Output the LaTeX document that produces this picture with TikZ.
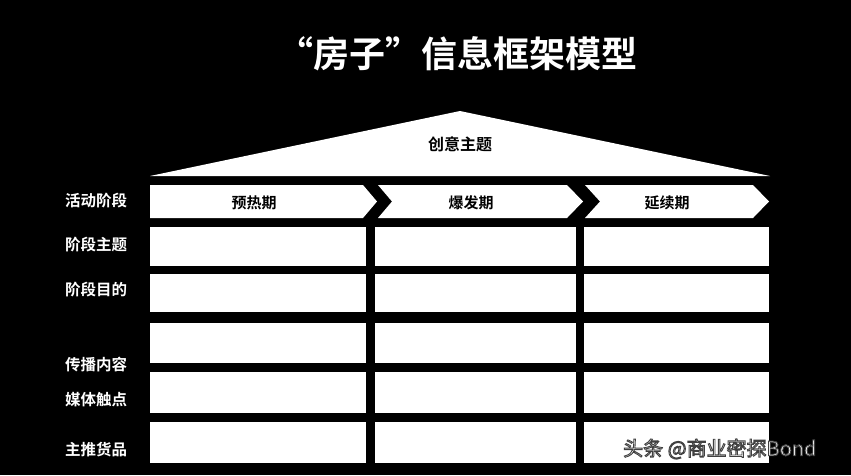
\documentclass[tikz,border=0pt]{standalone}
\usepackage{fontspec}
\setmainfont{Noto Sans CJK SC}[BoldFont={Noto Sans CJK SC Bold}]
\usepackage{tikz}
\usetikzlibrary{positioning}

% outlined text (white fill, dark stroke)
\newcommand{\outlinedtext}[1]{\special{pdf:literal direct 2 Tr 0.9 w 0.25 0.25 0.25 RG}#1\special{pdf:literal direct 0 Tr}}

\begin{document}
\begin{tikzpicture}[
		x=1pt, y=-1pt,
		rowlabel/.style={text=white, font=\fontsize{15.5}{16}\selectfont\bfseries, inner sep=0pt},
		phaselabel/.style={text=black, font=\fontsize{15}{16}\selectfont\bfseries, inner sep=0pt},
		cell/.style={fill=white, inner sep=0pt, anchor=north west}
	]

	\fill[black] (0,0) rectangle (851,475);
	\useasboundingbox (0,0) rectangle (851,475);

	\node[text=white, font=\fontsize{36}{38}\selectfont\bfseries] (title) at (457,54) {“房子”信息框架模型};

	% roof
	\fill[white] (150,176) -- (460,111) -- (770,176) -- cycle;
	\node[phaselabel, font=\fontsize{16}{17}\selectfont\bfseries] (roof) at (460,144) {创意主题};

	% phases
	\fill[white] (150,185) -- (363,185) -- (377,201.5) -- (363,218) -- (150,218) -- cycle;
	\fill[white] (378,185) -- (567,185) -- (583,201.5) -- (567,218) -- (378,218) -- (392,201.5) -- cycle;
	\fill[white] (585,185) -- (753,185) -- (769,201.5) -- (753,218) -- (585,218) -- (600,201.5) -- cycle;
	\node[phaselabel] (warmup) at (254,203) {预热期};
	\node[phaselabel] (burst) at (471,203) {爆发期};
	\node[phaselabel] (sustain) at (667,203) {延续期};

	% row labels
	\node[rowlabel] (lphase) at (96,201) {活动阶段};
	\node[rowlabel] (ltheme) at (96,245) {阶段主题};
	\node[rowlabel] (lgoal) at (96,290) {阶段目的};
	\node[rowlabel] (lcontent) at (96,365) {传播内容};
	\node[rowlabel] (lmedia) at (96,400) {媒体触点};
	\node[rowlabel] (lgoods) at (96,450) {主推货品};

	% cells
	\node[cell, minimum width=216pt, minimum height=39pt] (a1) at (150,227) {};
	\node[cell, minimum width=201pt, minimum height=39pt] (b1) at (375,227) {};
	\node[cell, minimum width=185pt, minimum height=39pt] (c1) at (584,227) {};

	\node[cell, minimum width=216pt, minimum height=38pt] (a2) at (150,274) {};
	\node[cell, minimum width=201pt, minimum height=38pt] (b2) at (375,274) {};
	\node[cell, minimum width=185pt, minimum height=38pt] (c2) at (584,274) {};

	\node[cell, minimum width=216pt, minimum height=40pt] (a3) at (150,323) {};
	\node[cell, minimum width=201pt, minimum height=40pt] (b3) at (375,323) {};
	\node[cell, minimum width=185pt, minimum height=40pt] (c3) at (584,323) {};

	\node[cell, minimum width=216pt, minimum height=41pt] (a4) at (150,372) {};
	\node[cell, minimum width=201pt, minimum height=41pt] (b4) at (375,372) {};
	\node[cell, minimum width=185pt, minimum height=41pt] (c4) at (584,372) {};

	\node[cell, minimum width=216pt, minimum height=41pt] (a5) at (150,422) {};
	\node[cell, minimum width=201pt, minimum height=41pt] (b5) at (375,422) {};
	\node[cell, minimum width=185pt, minimum height=41pt] (c5) at (584,422) {};

	% watermark
	\node[text=white, font=\fontsize{20}{21}\selectfont, anchor=west, inner sep=0pt] (mark) at (623,449) {\outlinedtext{头条 @商业密探Bond}};

\end{tikzpicture}
\end{document}
